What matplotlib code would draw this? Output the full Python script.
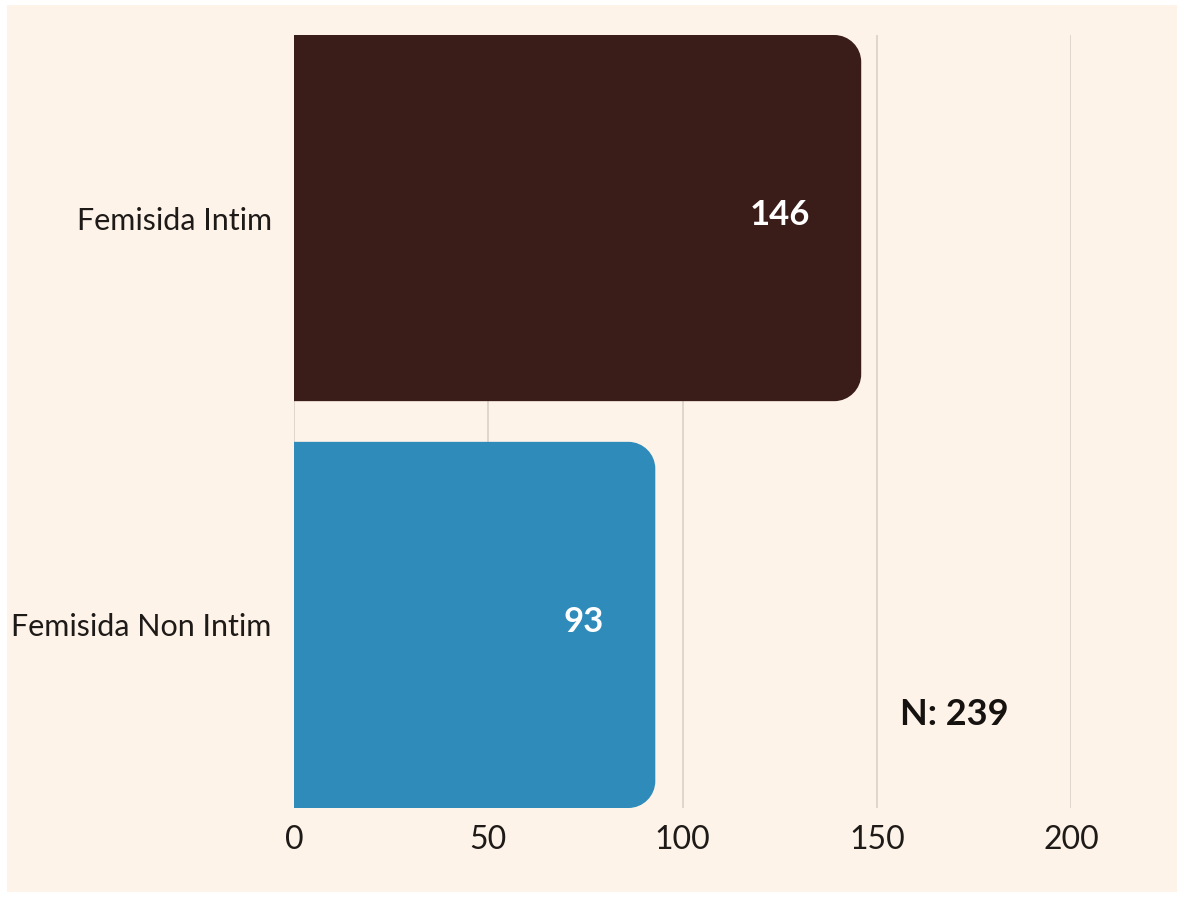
import matplotlib.pyplot as plt
import matplotlib.patches as mpatches
from matplotlib.path import Path
import numpy as np

categories = ["Femisida Intim", "Femisida Non Intim"]
values = [146, 93]
colors = ["#3a1c19", "#2e8bba"]
xticks = [0, 50, 100, 150, 200]
total_label = "N: 239"

bg = "#fef3e9"
plt.rcParams['font.family'] = ['Lato', 'DejaVu Sans']

fig = plt.figure(figsize=(11.84, 8.97), dpi=100, facecolor="white")
# cream panel inside a thin white frame
fig.patches.append(mpatches.Rectangle((7/1184, 5/897), 1 - 14/1184, 1 - 10/897,
                                      transform=fig.transFigure, facecolor=bg,
                                      edgecolor="none", zorder=-10))
ax = fig.add_axes([294/1184, 1 - 808/897, (1071 - 294)/1184, (808 - 35)/897])
ax.set_facecolor(bg)

bar_h = 0.9
ypos = np.arange(len(categories))
ax.set_xlim(0, 200)
ax.set_ylim(len(categories) - 1 + bar_h/2, -bar_h/2)

# corner radius in pixels -> data units
fig.canvas.draw()
bb = ax.get_window_extent()
r_px = 27
rx = r_px * 200 / bb.width
ry = r_px * (len(categories) - 1 + bar_h) / bb.height
k = 0.5523


def rounded_bar(x1, yc, h):
    y0, y1 = yc - h/2, yc + h/2
    verts = [(0, y0), (x1 - rx, y0),
             (x1 - rx + k*rx, y0), (x1, y0 + ry - k*ry), (x1, y0 + ry),
             (x1, y1 - ry),
             (x1, y1 - ry + k*ry), (x1 - rx + k*rx, y1), (x1 - rx, y1),
             (0, y1), (0, y0)]
    codes = [Path.MOVETO, Path.LINETO,
             Path.CURVE4, Path.CURVE4, Path.CURVE4,
             Path.LINETO,
             Path.CURVE4, Path.CURVE4, Path.CURVE4,
             Path.LINETO, Path.CLOSEPOLY]
    return Path(verts, codes)


for y, v, c in zip(ypos, values, colors):
    ax.add_patch(mpatches.PathPatch(rounded_bar(v, y, bar_h), facecolor=c,
                                    edgecolor="none", zorder=3))
    ax.annotate(str(v), xy=(v, y), xytext=(-37, 2), textcoords="offset points",
                ha="right", va="center", color="white", fontsize=25,
                fontweight="bold", zorder=4)

for x in xticks:
    ax.axvline(x, color="#ddd3ca", lw=1.3, zorder=1)

ax.set_xticks(xticks)
ax.set_xticklabels([str(x) for x in xticks])
ax.set_yticks(ypos)
ax.set_yticklabels(categories)
ax.tick_params(axis="x", length=0, pad=12, labelsize=23, labelcolor="#1e1a18")
ax.tick_params(axis="y", length=0, pad=16, labelsize=22, labelcolor="#1e1a18")
for s in ax.spines.values():
    s.set_visible(False)

ax.text(156, 1.22, total_label, ha="left", va="center", fontsize=26,
        fontweight="bold", color="#151210")

fig.savefig("out.png", dpi=100, facecolor=fig.get_facecolor())
